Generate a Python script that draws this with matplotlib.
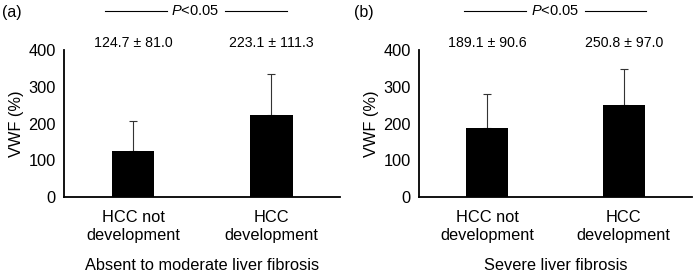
import matplotlib
matplotlib.use("Agg")
import matplotlib.pyplot as plt

plt.rcParams['font.family'] = ['Liberation Sans', 'DejaVu Sans']
plt.rcParams['mathtext.fontset'] = 'custom'
plt.rcParams['mathtext.rm'] = 'Liberation Sans'
plt.rcParams['mathtext.it'] = 'Liberation Sans:italic'

categories = ["HCC not\ndevelopment", "HCC\ndevelopment"]
panel_labels = ["(a)", "(b)"]
group_titles = ["Absent to moderate liver fibrosis", "Severe liver fibrosis"]
means_a = [124.7, 223.1]
sds_a = [81.0, 111.3]
means_b = [189.1, 250.8]
sds_b = [90.6, 97.0]
yticks = [0, 100, 200, 300, 400]

fig = plt.figure(figsize=(6.99, 2.74), dpi=100)
axes = [fig.add_axes([0.0916, 0.281, 0.395, 0.5365]),
        fig.add_axes([0.5994, 0.281, 0.3906, 0.5365])]

data = [(means_a, sds_a), (means_b, sds_b)]
pline = [((0.149, 0.373), 0.475, (0.583, 0.808)),
         ((0.165, 0.392), 0.498, (0.608, 0.832))]

FS = 11.8
for i, ax in enumerate(axes):
    m, s = data[i]
    x = list(range(len(categories)))
    ax.bar(x, m, width=0.31, color='black', zorder=2)
    ax.errorbar(x, m, yerr=[[0]*len(s), s], fmt='none', ecolor='#333333',
                elinewidth=0.8, capsize=3, capthick=0.8, zorder=1)
    ax.set_xlim(-0.5, 1.5)
    ax.set_ylim(0, 400)
    ax.set_yticks(yticks)
    ax.set_xticks(x)
    ax.set_xticklabels(categories, fontsize=FS, linespacing=1.3)
    ax.tick_params(axis='both', length=0, labelsize=FS)
    ax.tick_params(axis='y', pad=6)
    ax.tick_params(axis='x', pad=9)
    for sp in ['top', 'right']:
        ax.spines[sp].set_visible(False)
    ax.spines['left'].set_linewidth(1.3)
    ax.spines['bottom'].set_linewidth(1.3)
    ax.set_ylabel("VWF (%)", fontsize=FS, labelpad=3)
    ax.set_xlabel(group_titles[i], fontsize=FS, labelpad=11)
    for xi, mi, si in zip(x, m, s):
        ax.text(xi, 419, f"{mi:.1f} ± {si:.1f}", ha='center', va='center',
                fontsize=10.2, clip_on=False)
    (l0, l1), tc, (r0, r1) = pline[i]
    yl = 1.265
    ax.plot([l0, l1], [yl, yl], color='black', lw=0.8, transform=ax.transAxes, clip_on=False)
    ax.plot([r0, r1], [yl, yl], color='black', lw=0.8, transform=ax.transAxes, clip_on=False)
    ax.text(tc, yl, r"$\it{P}$<0.05", ha='center', va='center', fontsize=10.5,
            transform=ax.transAxes)

fig.text(0.003, 0.955, panel_labels[0], fontsize=11.5, va='center', ha='left')
fig.text(0.506, 0.955, panel_labels[1], fontsize=11.5, va='center', ha='left')

fig.savefig("out.png", dpi=100)
